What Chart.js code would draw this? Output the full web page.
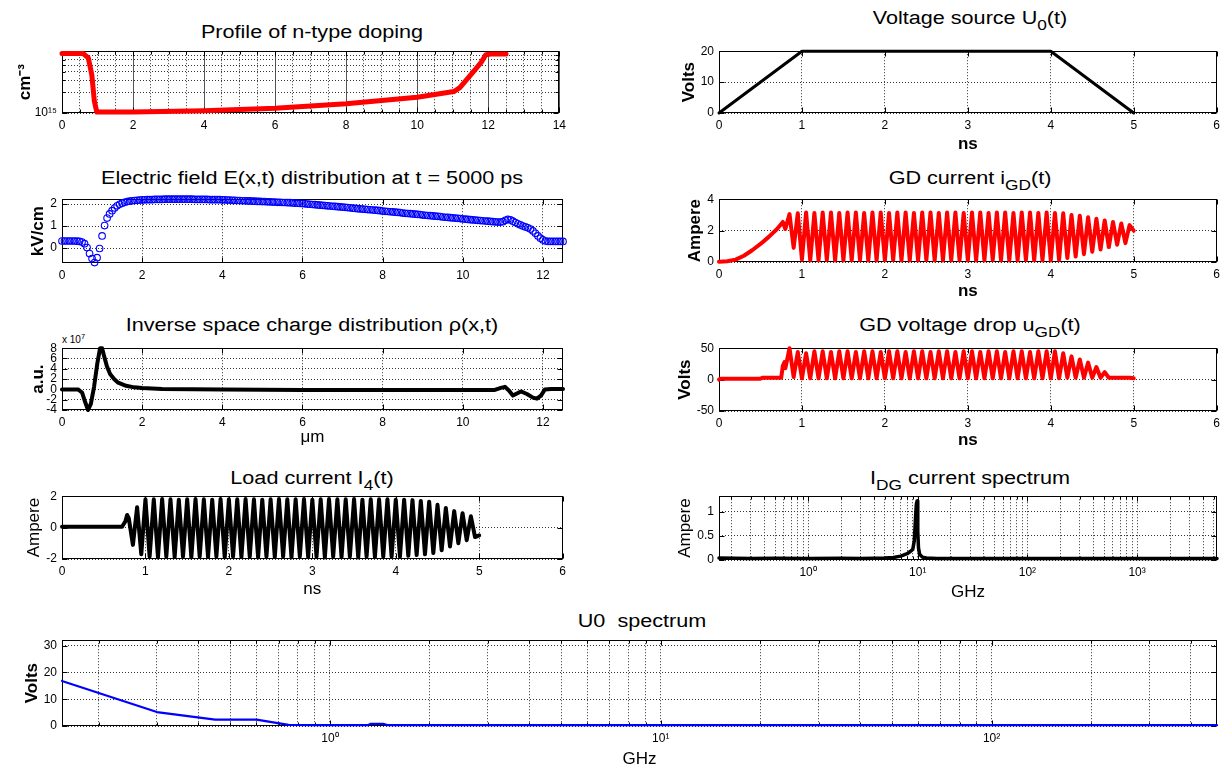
<!DOCTYPE html>
<html>
<head>
<meta charset="utf-8">
<title>Gunn diode simulation</title>
<script src="https://cdn.jsdelivr.net/npm/chart.js@4.4.1/dist/chart.umd.min.js"></script>
<style>
  body { margin: 0; background: #fff; }
  #fig { position: relative; width: 1229px; height: 767px; overflow: hidden; background: #fff;
         font-family: 'Liberation Sans', Arial, Helvetica, sans-serif; color: #000; }
  .panel { position: absolute; }
  .panel canvas { display: block; }
  .ttl { position: absolute; font-size: 18px; line-height: 18px; white-space: nowrap;
         transform: translateX(-50%) scaleX(1.2); }
  .ttl .sb { font-size: 0.8em; vertical-align: -0.45em; }
  .mult { position: absolute; font-size: 10px; line-height: 10px; white-space: nowrap; }
  .mult sup { font-size: 0.75em; }
</style>
</head>
<body>
<div id="fig">
  <div class="ttl" style="left:312px;top:23px">Profile of n-type doping</div>
  <div class="ttl" style="left:312px;top:169px">Electric field E(x,t) distribution at t = 5000 ps</div>
  <div class="ttl" style="left:312px;top:316px">Inverse space charge distribution &rho;(x,t)</div>
  <div class="ttl" style="left:312px;top:469px">Load current I<span class="sb">4</span>(t)</div>
  <div class="ttl" style="left:970px;top:9px">Voltage source U<span class="sb">0</span>(t)</div>
  <div class="ttl" style="left:970px;top:169px">GD current i<span class="sb">GD</span>(t)</div>
  <div class="ttl" style="left:970px;top:316px">GD voltage drop u<span class="sb">GD</span>(t)</div>
  <div class="ttl" style="left:970px;top:469px">I<span class="sb">DG</span> current spectrum</div>
  <div class="ttl" style="left:642px;top:612px">U0&nbsp; spectrum</div>
  <div class="mult" style="left:62px;top:332px">x 10<sup>7</sup></div>
</div>
<script>
// ---------------------------------------------------------------
// Data
// ---------------------------------------------------------------

// doping profile, x in µm, N in cm^-3
const dopX = [0, 0.6, 0.74, 0.84, 0.91, 0.98, 2, 4, 6, 8, 10, 11.03, 11.2, 11.5, 11.8, 11.93, 12.07, 12.5];
const dopN = [7.4e15, 7.4e15, 6.4e15, 3.6e15, 1.5e15, 1.03e15, 1.03e15, 1.08e15, 1.17e15, 1.37e15, 1.7e15, 2.06e15, 2.34e15, 3.57e15, 5.5e15, 7.1e15, 7.3e15, 7.3e15];
const dopXLabels = [0, 2, 4, 6, 8, 10, 12, 14];

// electric field, kV/cm, sampled every 0.0625 µm from 0 to 12.5
const efStep = 0.0625;
const efVals = [
  0.32, 0.32, 0.32, 0.32, 0.32, 0.32, 0.31, 0.3, 0.27, 0.2, 0.02, -0.25, -0.48, -0.66, -0.44, -0.02,
  0.55, 1.02, 1.36, 1.55, 1.7, 1.82, 1.92, 1.99, 2.04, 2.08, 2.11, 2.13, 2.15, 2.16, 2.17, 2.18, 2.19,
  2.19, 2.2, 2.2, 2.2, 2.21, 2.21, 2.21, 2.21, 2.22, 2.22, 2.22, 2.22, 2.22, 2.22, 2.22, 2.22,
  2.22, 2.22, 2.22, 2.22, 2.21, 2.21, 2.21, 2.21, 2.21, 2.21, 2.2, 2.2, 2.2, 2.2, 2.2,
  2.19, 2.19, 2.18, 2.18, 2.17, 2.17, 2.16, 2.16, 2.15, 2.15, 2.14, 2.14, 2.13, 2.13, 2.12, 2.12, 2.11,
  2.11, 2.10, 2.10, 2.09, 2.09, 2.08, 2.08, 2.07, 2.07, 2.06, 2.06, 2.05, 2.04, 2.04, 2.03, 2.02,
  2.01, 2.00, 1.99, 1.98, 1.97, 1.96, 1.95, 1.94, 1.93, 1.92, 1.91, 1.9, 1.89, 1.88, 1.87, 1.86,
  1.85, 1.84, 1.83, 1.81, 1.80, 1.79, 1.78, 1.77, 1.76, 1.75, 1.74, 1.73, 1.72, 1.71, 1.70, 1.68,
  1.67, 1.66, 1.65, 1.64, 1.63, 1.62, 1.61, 1.59, 1.58, 1.57, 1.56, 1.55, 1.54, 1.53, 1.52, 1.50,
  1.49, 1.48, 1.47, 1.46, 1.45, 1.44, 1.43, 1.41, 1.40, 1.39, 1.38, 1.37, 1.36, 1.35, 1.34, 1.32,
  1.31, 1.30, 1.29, 1.28, 1.27, 1.26, 1.25, 1.24, 1.23, 1.22, 1.21, 1.20, 1.19, 1.18,
  1.18, 1.2, 1.26, 1.3, 1.28, 1.22, 1.16, 1.1, 1.05, 1.0, 0.96, 0.92, 0.86, 0.78, 0.67, 0.55, 0.45, 0.37,
  0.32, 0.3, 0.3, 0.3, 0.3, 0.3, 0.3, 0.3
];

// inverse space charge, units of 1e7
const rhoX = [0, 0.4, 0.5, 0.58, 0.65, 0.72, 0.8, 0.88, 0.95, 1.0, 1.05, 1.12, 1.2, 1.3, 1.4, 1.6, 1.8, 2.0, 2.5, 4, 6, 10.8, 10.95, 11.05, 11.15, 11.25, 11.35, 11.45, 11.6, 11.75, 11.85, 11.95, 12.05, 12.2, 12.5];
const rhoV = [0, 0, -0.6, -2.5, -4, -2.8, 0.5, 5, 8, 8, 6.5, 4.5, 3, 2, 1.3, 0.7, 0.4, 0.25, 0.1, 0, -0.1, -0.1, 0.3, 0.5, -0.2, -1.2, -0.8, -0.4, -0.9, -1.6, -1.8, -1.2, 0, 0.1, 0.1];

// time signals (ns); oscillating part sampled every 0.05 ns from 0.8 ns
const oscStart = 0.8, oscStep = 0.05;

const loadPreT = [0, 0.72, 0.76, 0.78];
const loadPreI = [0.05, 0.05, 0.4, 0.8];
const loadOsc = [
  0.6, -1.1, 1.3, -1.7, 1.8, -1.85, 1.8, -1.9, 1.82, -1.85,
  1.8, -1.88, 1.78, -1.85, 1.8, -1.9, 1.82, -1.85, 1.8, -1.88,
  1.78, -1.85, 1.82, -1.9, 1.8, -1.85, 1.8, -1.88, 1.82, -1.85,
  1.8, -1.9, 1.78, -1.85, 1.8, -1.88, 1.82, -1.85, 1.8, -1.9,
  1.8, -1.85, 1.82, -1.88, 1.78, -1.85, 1.8, -1.9, 1.82, -1.85,
  1.8, -1.88, 1.8, -1.85, 1.82, -1.9, 1.78, -1.85, 1.8, -1.88,
  1.8, -1.85, 1.8, -1.85, 1.78, -1.85, 1.78, -1.8, 1.75, -1.75,
  1.7, -1.7, 1.65, -1.62, 1.45, -1.44, 1.25, -1.2, 1.05, -1.0,
  0.92, -0.8, 0.72, -0.6, -0.5
];

const srcT = [0, 1, 4, 5];
const srcV = [0, 20, 20, 0];

const gdiPreT = [0, 0.1, 0.2, 0.3, 0.4, 0.5, 0.6, 0.7, 0.77];
const gdiPreV = [0.02, 0.05, 0.15, 0.4, 0.75, 1.15, 1.6, 2.1, 2.55];
const gdiOsc = [
  2.1, 3.05, 0.9, 3.1, 0.15, 3.15, 0.1, 3.12, 0.1, 3.15,
  0.12, 3.15, 0.1, 3.12, 0.1, 3.15, 0.1, 3.15, 0.12, 3.12,
  0.1, 3.15, 0.1, 3.15, 0.1, 3.12, 0.12, 3.15, 0.1, 3.15,
  0.1, 3.12, 0.1, 3.15, 0.12, 3.15, 0.1, 3.12, 0.1, 3.15,
  0.1, 3.15, 0.12, 3.12, 0.1, 3.15, 0.1, 3.15, 0.1, 3.12,
  0.12, 3.15, 0.1, 3.15, 0.1, 3.12, 0.1, 3.15, 0.12, 3.15,
  0.1, 3.12, 0.1, 3.15, 0.1, 3.12, 0.12, 3.1, 0.25, 3.0,
  0.35, 2.95, 0.5, 2.85, 0.65, 2.75, 0.8, 2.65, 0.95, 2.55,
  1.1, 2.45, 1.2, 2.35, 2.0
];

const gdvPreT = [0, 0.02, 0.5, 0.53, 0.75, 0.77, 0.79];
const gdvPreV = [0, 1.5, 1.5, 3, 3, 22, 28];
const gdvOsc = [
  18, 50, 4, 44, 2, 42, 2, 45, 2, 45,
  2, 44, 2, 45, 2, 45, 2, 44, 2, 45,
  2, 45, 2, 44, 2, 45, 2, 45, 2, 44,
  2, 45, 2, 45, 2, 44, 2, 45, 2, 45,
  2, 44, 2, 45, 2, 45, 2, 44, 2, 45,
  2, 45, 2, 44, 2, 45, 2, 45, 2, 44,
  2, 45, 2, 45, 2, 45, 2, 42, 3, 37,
  3, 32, 3, 27, 3, 20, 3, 12, 3, 3,
  3, 3, 3, 3, 2
];

// spectra (GHz)
const idgF = [0.154, 0.3, 0.5, 1, 2, 3, 4, 5, 6, 7, 8, 8.6, 9.0, 9.3, 9.5, 9.7, 9.85, 10.0, 10.15, 10.4, 11, 12, 15, 20, 50, 100, 1000, 5350];
const idgA = [0.04, 0.03, 0.035, 0.03, 0.035, 0.03, 0.035, 0.04, 0.05, 0.08, 0.13, 0.18, 0.22, 0.4, 0.8, 1.15, 1.22, 0.6, 0.25, 0.12, 0.06, 0.04, 0.03, 0.03, 0.03, 0.03, 0.03, 0.03];

const u0F = [0.155, 0.3, 0.45, 0.6, 0.75, 0.9, 1.3, 1.33, 1.45, 1.5, 3, 10, 30, 100, 480];
const u0A = [16.8, 5.2, 2.4, 2.4, 0.4, 0.3, 0.3, 0.8, 0.8, 0.3, 0.3, 0.3, 0.3, 0.3, 0.3];

// tick values
const nsTicks = [0, 1, 2, 3, 4, 5, 6];
const umTicks = [0, 2, 4, 6, 8, 10, 12];

// ---------------------------------------------------------------
// helpers
// ---------------------------------------------------------------
const fig = document.getElementById('fig');
Chart.defaults.font.family = "'Liberation Sans', Arial, Helvetica, sans-serif";
Chart.defaults.color = '#000';

const PAD = { l: 55, r: 8, t: 10, b: 46 };
const SUP = { '0': '⁰', '1': '¹', '2': '²', '3': '³', '4': '⁴', '5': '⁵', '6': '⁶', '7': '⁷', '8': '⁸', '9': '⁹', '-': '⁻' };
const isPow10 = v => Math.abs(Math.log10(v) - Math.round(Math.log10(v))) < 1e-9;
const pow10Label = v => '10' + String(Math.round(Math.log10(v))).split('').map(c => SUP[c]).join('');

function logTicks(min, max) {
  const out = [];
  for (let e = Math.floor(Math.log10(min)); e <= Math.ceil(Math.log10(max)); e++) {
    for (let m = 1; m <= 9; m++) {
      const v = m * Math.pow(10, e);
      if (v >= min * 0.9999 && v <= max * 1.0001) out.push(v);
    }
  }
  return out;
}

const osc = (preT, preV, vals) => {
  const pts = preT.map((t, i) => ({ x: t, y: preV[i] }));
  vals.forEach((v, k) => pts.push({ x: oscStart + k * oscStep, y: v }));
  return pts;
};
const pairs = (xs, ys) => xs.map((x, i) => ({ x, y: ys[i] }));

const line = (pts, color, w) => ({
  data: pts, borderColor: color, borderWidth: w, pointRadius: 0, tension: 0,
  fill: false, clip: false, borderJoinStyle: 'round', borderCapStyle: 'round'
});

// box and inward tick marks, drawn under the data like MATLAB's axes
const frame = {
  id: 'frame',
  beforeDatasetsDraw(chart) {
    const { ctx, chartArea: a, scales } = chart;
    const L = Math.round(a.left) + 0.5, T = Math.round(a.top) + 0.5;
    const R = Math.round(a.right) - 0.5, B = Math.round(a.bottom) - 0.5;
    ctx.save();
    ctx.strokeStyle = '#000';
    ctx.lineWidth = 1;
    ctx.strokeRect(L, T, R - L, B - T);
    ctx.beginPath();
    for (const s of [scales.x, scales.y]) {
      for (const t of s.ticks) {
        const len = t.label ? 5 : 3;
        const p = Math.round(s.getPixelForValue(t.value)) + 0.5;
        if (s.isHorizontal()) { ctx.moveTo(p, B); ctx.lineTo(p, B - len); ctx.moveTo(p, T); ctx.lineTo(p, T + len); }
        else { ctx.moveTo(L, p); ctx.lineTo(L + len, p); ctx.moveTo(R, p); ctx.lineTo(R - len, p); }
      }
    }
    ctx.stroke();
    ctx.restore();
  }
};

// tpad: gap from the canvas edge to the axis title (left edge for y, bottom edge for x)
function axis(o) {
  return {
    type: o.log ? 'logarithmic' : 'linear',
    min: o.min, max: o.max,
    afterBuildTicks: s => { s.ticks = o.grid.map(v => ({ value: v })); },
    ticks: {
      autoSkip: false, maxRotation: 0, minRotation: 0, padding: o.pad ?? 5,
      font: { size: 12 }, color: '#000',
      callback: o.label || (v => String(v))
    },
    grid: { drawTicks: false, color: o.gridColor || '#333', lineWidth: 1 },
    border: { display: false, dash: o.dash || [1, 2] },
    title: {
      display: !!o.title, text: o.title, color: '#000',
      font: { size: 17, weight: o.bold ? 'bold' : 'normal' },
      padding: { top: o.tpad || 0, bottom: o.tpad || 0 }
    }
  };
}

function makePanel(rect, datasets, x, y) {
  const [l, t, r, b] = rect;
  const W = r - l + PAD.l + PAD.r, H = b - t + PAD.t + PAD.b;
  const wrap = document.createElement('div');
  wrap.className = 'panel';
  Object.assign(wrap.style, { left: (l - PAD.l) + 'px', top: (t - PAD.t) + 'px', width: W + 'px', height: H + 'px' });
  const cv = document.createElement('canvas');
  cv.width = W; cv.height = H;
  wrap.appendChild(cv);
  fig.appendChild(wrap);
  x.afterFit = s => { s.height = PAD.b; };
  y.afterFit = s => { s.width = PAD.l; };
  new Chart(cv, {
    type: 'line',
    data: { datasets },
    options: {
      responsive: false, devicePixelRatio: 1, animation: false, events: [],
      layout: { padding: { left: 0, right: PAD.r, top: PAD.t, bottom: 0 } },
      plugins: { legend: { display: false }, tooltip: { enabled: false } },
      scales: { x, y }
    },
    plugins: [frame]
  });
}

// ---------------------------------------------------------------
// panels
// ---------------------------------------------------------------
const dopGridX = [];
for (let v = 0; v <= 14; v += 0.5) dopGridX.push(v);

makePanel([62, 49, 563, 113],
  [line(pairs(dopX, dopN), '#ff0000', 5)],
  axis({ min: 0, max: 14, grid: dopGridX,
         label: v => dopXLabels.includes(v) ? String(v) : '',
         dash: c => (c.tick && dopXLabels.includes(c.tick.value)) ? [] : [1, 2],
         gridColor: c => (c.tick && dopXLabels.includes(c.tick.value)) ? '#555' : '#333' }),
  axis({ log: true, min: 1e15, max: 8e15, grid: logTicks(1e15, 8e15),
         label: v => isPow10(v) ? pow10Label(v) : '',
         title: 'cm⁻³', bold: true, tpad: 8 }));

makePanel([62, 197, 563, 263],
  [{ data: efVals.map((v, i) => ({ x: i * efStep, y: v })), showLine: false, clip: false,
     borderColor: '#0000ff', pointRadius: 3.3, pointBorderWidth: 1.1,
     pointBorderColor: '#0000ff', pointBackgroundColor: 'rgba(0,0,0,0)' }],
  axis({ min: 0, max: 12.5, grid: umTicks }),
  axis({ min: -0.68, max: 2.22, grid: [0, 1, 2], title: 'kV/cm', bold: true, tpad: 21 }));

makePanel([62, 346, 563, 410],
  [line(pairs(rhoX, rhoV), '#000000', 4)],
  axis({ min: 0, max: 12.5, grid: umTicks, title: 'μm', tpad: 8 }),
  axis({ min: -4, max: 8, grid: [-4, -2, 0, 2, 4, 6, 8], title: 'a.u.', bold: true, tpad: 21 }));

makePanel([62, 494, 563, 559],
  [line(osc(loadPreT, loadPreI, loadOsc), '#000000', 4)],
  axis({ min: 0, max: 6, grid: nsTicks, title: 'ns', tpad: 5 }),
  axis({ min: -2, max: 2, grid: [-2, 0, 2], title: 'Ampere', tpad: 17 }));

makePanel([719, 49, 1217, 113],
  [line(pairs(srcT, srcV), '#000000', 3)],
  axis({ min: 0, max: 6, grid: nsTicks, title: 'ns', bold: true, tpad: 4 }),
  axis({ min: 0, max: 20, grid: [0, 10, 20], title: 'Volts', bold: true, tpad: 15 }));

makePanel([719, 197, 1217, 262],
  [line(osc(gdiPreT, gdiPreV, gdiOsc), '#ff0000', 4)],
  axis({ min: 0, max: 6, grid: nsTicks, title: 'ns', bold: true, tpad: 6 }),
  axis({ min: 0, max: 4, grid: [0, 2, 4], title: 'Ampere', bold: true, tpad: 21 }));

makePanel([719, 346, 1217, 411],
  [line(osc(gdvPreT, gdvPreV, gdvOsc), '#ff0000', 4)],
  axis({ min: 0, max: 6, grid: nsTicks, title: 'ns', bold: true, tpad: 6 }),
  axis({ min: -50, max: 50, grid: [-50, 0, 50], title: 'Volts', bold: true, tpad: 11 }));

makePanel([719, 494, 1217, 560],
  [line(pairs(idgF, idgA), '#000000', 3.5)],
  axis({ log: true, min: 0.154, max: 5350, grid: logTicks(0.154, 5350),
         label: v => isPow10(v) ? pow10Label(v) : '', title: 'GHz', tpad: 3 }),
  axis({ min: 0, max: 1.32, grid: [0, 0.5, 1], title: 'Ampere', tpad: 11 }));

makePanel([62, 638, 1217, 726],
  [line(pairs(u0F, u0A), '#0000ff', 2.2)],
  axis({ log: true, min: 0.155, max: 480, grid: logTicks(0.155, 480),
         label: v => isPow10(v) ? pow10Label(v) : '', title: 'GHz', tpad: 2 }),
  axis({ min: 0, max: 32, grid: [0, 10, 20, 30], title: 'Volts', bold: true, tpad: 15 }));
</script>
</body>
</html>
